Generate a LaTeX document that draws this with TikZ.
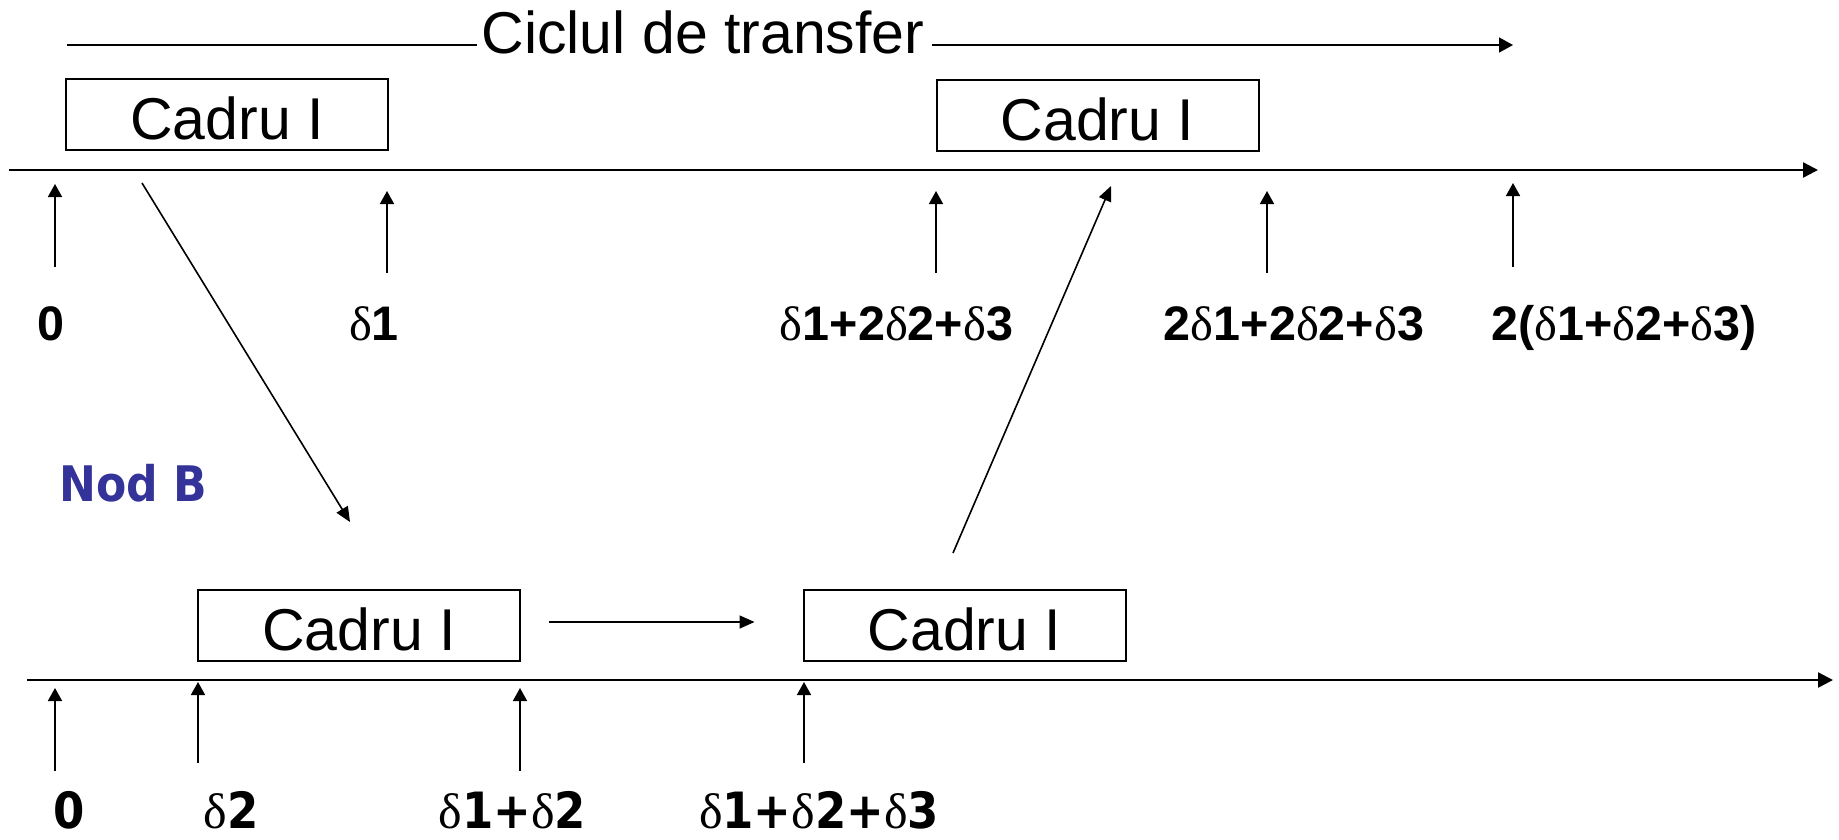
\documentclass[tikz,border=0pt]{standalone}
\usepackage{fontspec}
\usetikzlibrary{arrows.meta}
\setmainfont{Liberation Sans}
\newfontfamily\serifgreek{Liberation Serif}
\newfontfamily\condfont{DejaVu Sans Condensed Bold}
\definecolor{nodblue}{HTML}{333399}
% Greek delta set in a serif face, as in the time labels
\newcommand\dlt{{\serifgreek\mdseries δ}}

\begin{document}
\begin{tikzpicture}[x=1pt,y=-1pt,
  cadru/.style={draw, line width=2pt, minimum width=322pt, minimum height=71pt,
    inner sep=0pt, text height=50pt, text depth=0pt,
    font=\fontsize{59}{62}\selectfont},
  axis/.style={line width=2.4pt, -{Triangle[length=15pt,width=15pt]}},
  tick/.style={line width=1.6pt, -{Triangle[length=13pt,width=14pt]}},
  diag/.style={line width=1.6pt, -{Triangle[length=15pt,width=13pt]}},
  toplab/.style={anchor=base, inner sep=0pt, font=\fontsize{48.5}{52}\selectfont\bfseries},
  botlab/.style={anchor=base, inner sep=0pt, font=\fontsize{50}{54}\selectfont\condfont},
]
\useasboundingbox (0,0) rectangle (1839,839);

% --- transfer cycle heading ---
\node[anchor=base, inner ysep=0pt, inner xsep=4pt, font=\fontsize{59}{62}\selectfont]
  (title) at (703,53) {Ciclul de transfer};
\coordinate (tl) at (67,45);
\coordinate (tend) at (1513,45);
\path ([xshift=3pt]title.east) coordinate (te);
\draw[line width=1.6pt] (tl) -- (tl -| title.west);
\draw[line width=1.6pt, -{Triangle[length=14pt,width=15pt]}] (te |- tl) -- (tend);

% --- upper time axis ---
\coordinate (axAs) at (9,170);
\coordinate (axAe) at (1818,170);
\draw[axis] (axAs) -- (axAe);
\node[cadru] (f1) at (227,114.5) {Cadru I};
\node[cadru] (f2) at (1097.5,115) {Cadru I};

\foreach \n/\x/\a/\b in {a0/55/267/184, a1/387/273/191, a2/936/273/191,
                         a3/1267/273/191, a4/1513/267/183}{
  \coordinate (u\n) at (\x,\a);
  \coordinate (v\n) at (\x,\b);
  \draw[tick] (u\n) -- (v\n);
}

\node[toplab] (l0) at (51,340) {0};
\node[toplab] (l1) at (374,340) {\dlt1};
\node[toplab] (l2) at (896.5,340) {\dlt1+2\dlt2+\dlt3};
\node[toplab] (l3) at (1294,340) {2\dlt1+2\dlt2+\dlt3};
\node[toplab] (l4) at (1624,340) {2(\dlt1+\dlt2+\dlt3)};

% --- node B ---
\node[anchor=base west, inner sep=0pt, text=nodblue,
      font=\fontsize{49}{52}\selectfont\condfont] (nodb) at (59,501) {Nod B};

% --- lower time axis ---
\coordinate (axBs) at (27,680);
\coordinate (axBe) at (1833,680);
\draw[axis] (axBs) -- (axBe);
\node[cadru] (g1) at (359,625) {Cadru I};
\node[cadru] (g2) at (964.5,625) {Cadru I};

\foreach \n/\x/\a/\b in {b0/55/771/688, b1/198/763/682, b2/520/771/688, b3/804/763/682}{
  \coordinate (u\n) at (\x,\a);
  \coordinate (v\n) at (\x,\b);
  \draw[tick] (u\n) -- (v\n);
}

\node[botlab] (m0) at (69,828) {0};
\node[botlab] (m1) at (231,828) {\dlt2};
\node[botlab] (m2) at (512.5,828) {\dlt1+\dlt2};
\node[botlab] (m3) at (819,828) {\dlt1+\dlt2+\dlt3};

% --- frame propagation between the two stations ---
\coordinate (d1s) at (142,183);
\coordinate (d1e) at (350,522);
\draw[diag] (d1s) -- (d1e);
\coordinate (d2s) at (953,553);
\coordinate (d2e) at (1111,186);
\draw[diag] (d2s) -- (d2e);
\draw[diag] ([xshift=28pt,yshift=3pt]g1.east) -- ([xshift=-48pt,yshift=3pt]g2.west);
\end{tikzpicture}
\end{document}
